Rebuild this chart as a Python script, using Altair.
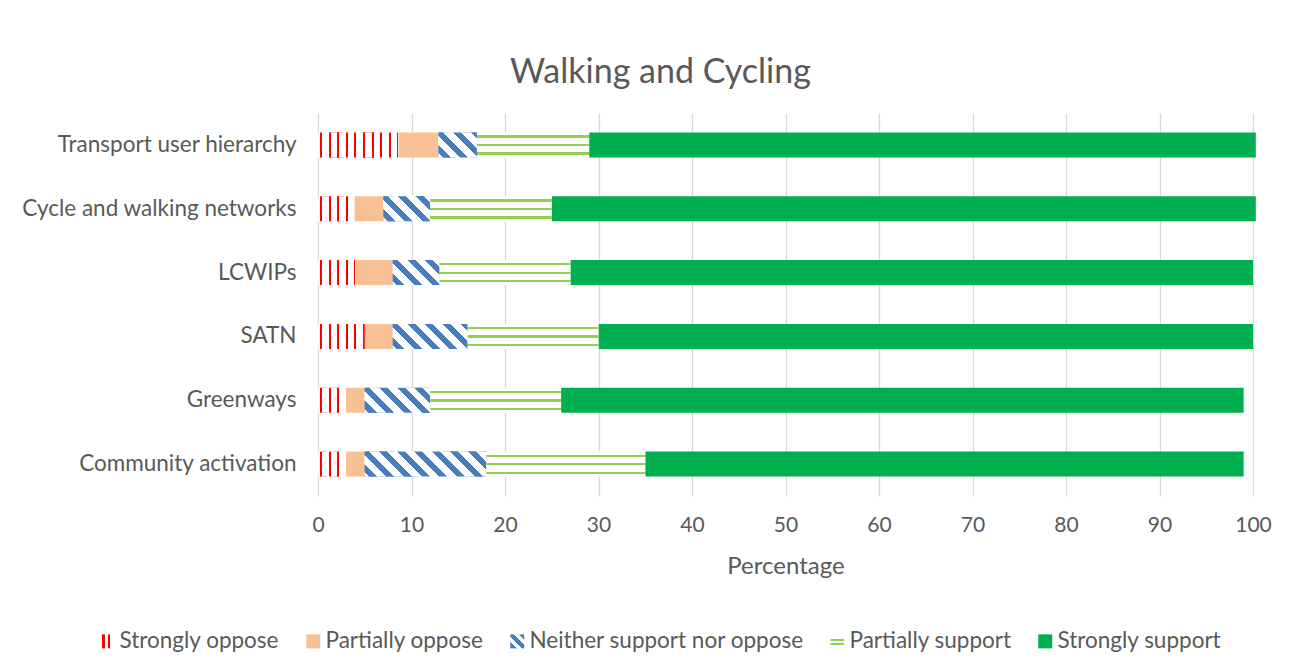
import altair as alt
import pandas as pd

# ---------------- data ----------------
rows = [
    "Transport user hierarchy",
    "Cycle and walking networks",
    "LCWIPs",
    "SATN",
    "Greenways",
    "Community activation",
]
categories = [
    "Strongly oppose",
    "Partially oppose",
    "Neither support nor oppose",
    "Partially support",
    "Strongly support",
]
strongly_oppose = [8.6, 3.9, 4.0, 5.0, 3.0, 3.0]
partially_oppose = [4.3, 3.1, 4.0, 3.0, 2.0, 2.0]
neither = [4.1, 5.0, 5.0, 8.0, 7.0, 13.0]
partially_support = [12.0, 13.0, 14.0, 14.0, 14.0, 17.0]
strongly_support = [71.3, 75.3, 73.0, 70.0, 73.0, 64.0]
x_ticks = [0, 10, 20, 30, 40, 50, 60, 70, 80, 90, 100]

series = [strongly_oppose, partially_oppose, neither, partially_support, strongly_support]

records = []
for i, r in enumerate(rows):
    cum = 0.0
    for k, cat in enumerate(categories):
        v = series[k][i]
        records.append({"row": r, "cat": cat, "start": cum, "end": cum + v, "value": v})
        cum += v
df = pd.DataFrame(records)

# ---------------- style ----------------
W_PLOT = 935
H_PLOT = 383
PX = W_PLOT / 100.0
BAR_H = 25
FONT = "Lato"
TXT = "#595959"
RED = "#FF0000"
ORANGE = "#F8C095"
BLUE = "#4A7EBB"
LGREEN = "#92D050"
GREEN = "#00B050"
GRID = "#D9D9D9"


def stops_from_bands(bands, color, bg="#FFFFFF"):
    stops = [{"offset": 0.0, "color": bg}]
    last = 0.0
    for a, b in bands:
        a = max(last, min(1.0, a))
        b = max(a, min(1.0, b))
        if b <= a:
            continue
        stops += [
            {"offset": round(a, 4), "color": bg},
            {"offset": round(a, 4), "color": color},
            {"offset": round(b, 4), "color": color},
            {"offset": round(b, 4), "color": bg},
        ]
        last = b
    stops.append({"offset": 1.0, "color": bg})
    return stops


def vertical_lines(width_px, first=2.0, thick=2.0, period=8.6):
    bands = []
    p = first
    while p < width_px - 0.8:
        bands.append((p / width_px, (p + thick) / width_px))
        p += period
    return {"gradient": "linear", "x1": 0, "y1": 0, "x2": 1, "y2": 0,
            "stops": stops_from_bands(bands, RED)}


def diagonal_lines(width_px, h=BAR_H, thick=8.0, period=17.7, phase=4.0):
    L = width_px + h
    c = L / (width_px ** 2 + h ** 2)
    bands = []
    s = phase - period
    while s < L:
        bands.append((s / L, (s + thick) / L))
        s += period
    return {"gradient": "linear", "x1": 0, "y1": 1,
            "x2": round(c * width_px, 4), "y2": round(1 - c * h, 4),
            "stops": stops_from_bands(bands, BLUE)}


PARTIAL_FILL = {"gradient": "linear", "x1": 0, "y1": 0, "x2": 0, "y2": 1,
                "stops": stops_from_bands([(0.12, 0.21), (0.46, 0.55), (0.80, 0.89)], LGREEN)}

LEG_RED = {"gradient": "linear", "x1": 0, "y1": 0, "x2": 1, "y2": 0,
           "stops": stops_from_bands([(0.15, 0.31), (0.55, 0.71)], RED)}
LEG_BLUE = {"gradient": "linear", "x1": 0, "y1": 1, "x2": 1, "y2": 0,
            "stops": stops_from_bands([(0.0, 0.22), (0.42, 0.62), (0.82, 1.0)], BLUE)}
LEG_PARTIAL = {"gradient": "linear", "x1": 0, "y1": 0, "x2": 0, "y2": 1,
               "stops": stops_from_bands([(0.30, 0.44), (0.60, 0.74)], LGREEN)}


def to_expr(o):
    if isinstance(o, dict):
        return "{" + ",".join(f"{k}:{to_expr(v)}" for k, v in o.items()) + "}"
    if isinstance(o, list):
        return "[" + ",".join(to_expr(v) for v in o) + "]"
    if isinstance(o, str):
        return "'" + o + "'"
    return repr(float(o))


legend_range = [
    alt.ExprRef(expr=to_expr(LEG_RED)),
    ORANGE,
    alt.ExprRef(expr=to_expr(LEG_BLUE)),
    alt.ExprRef(expr=to_expr(LEG_PARTIAL)),
    GREEN,
]

y_enc = alt.Y(
    "row:N",
    sort=rows,
    title=None,
    axis=alt.Axis(domain=False, ticks=False, grid=False, labelFont=FONT,
                  labelFontSize=22.5, labelColor=TXT, labelPadding=22, labelLimit=400),
)
x_enc = alt.X(
    "start:Q",
    scale=alt.Scale(domain=[0, 100], nice=False),
    axis=alt.Axis(values=x_ticks, grid=True, gridColor=GRID, gridWidth=1.3,
                  domain=False, ticks=False, labelFlush=False, labelFont=FONT,
                  labelFontSize=21, labelColor=TXT, labelPadding=18,
                  title="Percentage", titleFont=FONT, titleFontSize=24,
                  titleFontWeight="normal", titleColor=TXT, titlePadding=19),
)

base = alt.Chart(df)

main = base.mark_bar(size=BAR_H, strokeWidth=0).encode(
    x=x_enc,
    x2="end:Q",
    y=y_enc,
    color=alt.Color(
        "cat:N",
        scale=alt.Scale(domain=categories, range=legend_range),
        sort=categories,
        legend=alt.Legend(
            title=None, orient="none", legendX=-222, legendY=517,
            direction="horizontal", columns=5, symbolType="square",
            symbolSize=196, symbolStrokeWidth=0, labelFont=FONT,
            labelFontSize=22.5, labelColor=TXT, labelOffset=1,
            columnPadding=22, labelLimit=400,
        ),
    ),
)

layers = [main]
for i, r in enumerate(rows):
    w_red = strongly_oppose[i] * PX
    layers.append(
        base.transform_filter(
            (alt.datum.row == r) & (alt.datum.cat == categories[0])
        ).mark_bar(size=BAR_H, strokeWidth=0, fill=vertical_lines(w_red)).encode(
            x="start:Q", x2="end:Q", y=alt.Y("row:N", sort=rows)
        )
    )
    w_blue = neither[i] * PX
    layers.append(
        base.transform_filter(
            (alt.datum.row == r) & (alt.datum.cat == categories[2])
        ).mark_bar(size=BAR_H, strokeWidth=0, fill=diagonal_lines(w_blue)).encode(
            x="start:Q", x2="end:Q", y=alt.Y("row:N", sort=rows)
        )
    )
layers.append(
    base.transform_filter(alt.datum.cat == categories[3])
    .mark_bar(size=BAR_H, strokeWidth=0, fill=PARTIAL_FILL)
    .encode(x="start:Q", x2="end:Q", y=alt.Y("row:N", sort=rows))
)

chart = (
    alt.layer(*layers)
    .properties(
        width=W_PLOT,
        height=H_PLOT,
        title=alt.TitleParams(
            "Walking and Cycling", font=FONT, fontSize=34, fontWeight="normal",
            color=TXT, anchor="middle", dx=-125, offset=-4, baseline="alphabetic",
        ),
        autosize=alt.AutoSizeParams(type="none"),
        padding={"left": 310, "top": 105, "right": 30, "bottom": 160},
        background="white",
    )
    .configure_view(stroke=None)
)

chart.save("out.html", embed_options={"renderer": "svg", "actions": False})
